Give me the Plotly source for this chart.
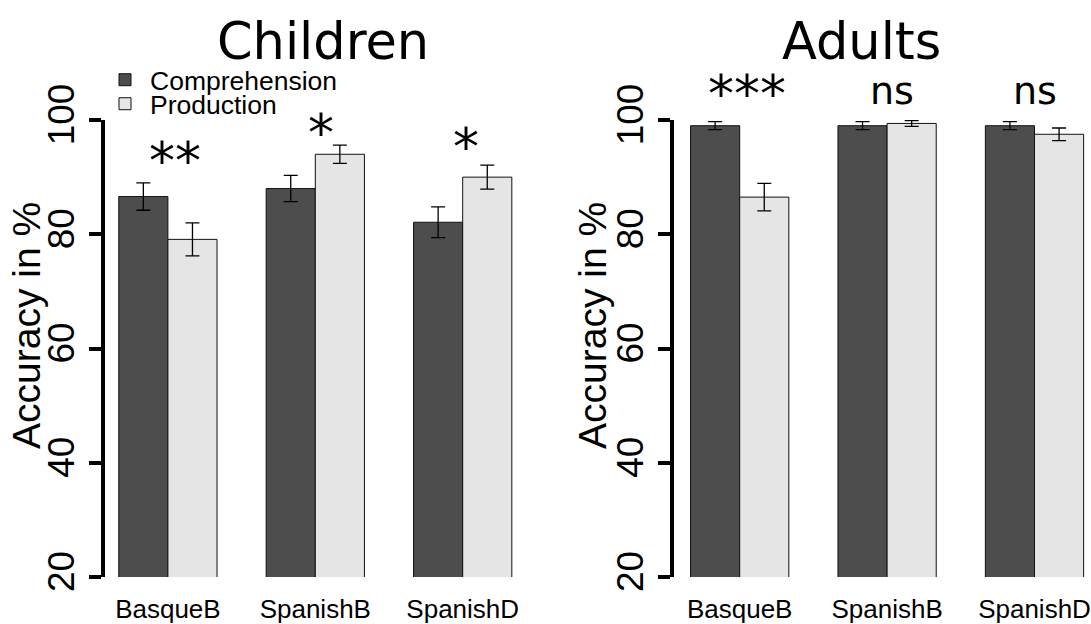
import plotly.graph_objects as go

# ---- data -------------------------------------------------------------
groups = ["BasqueB", "SpanishB", "SpanishD"]

children_comp = [86.6, 88.0, 82.1]
children_comp_se = [2.4, 2.3, 2.7]
children_prod = [79.1, 94.0, 90.0]
children_prod_se = [2.9, 1.6, 2.1]

adults_comp = [99.0, 99.0, 99.0]
adults_comp_se = [0.7, 0.7, 0.7]
adults_prod = [86.5, 99.4, 97.5]
adults_prod_se = [2.4, 0.5, 1.1]

y_ticks = [20, 40, 60, 80, 100]
y_range = [20, 100]

children_sig = ["**", "*", "*"]
children_sig_x = [0.05, 1.036, 2.02]
children_sig_y = [92.8, 97.8, 95.3]

adults_sig = ["***", "ns", "ns"]
adults_sig_x = [0.05, 1.03, 2.0]
adults_sig_y = [104.5, 105.0, 105.0]

# ---- styling ----------------------------------------------------------
W, H = 1091, 624
DARK = "#4d4d4d"
LIGHT = "#e5e5e5"
SANS = "Liberation Sans, Arial, sans-serif"
DEJAVU = "DejaVu Sans, sans-serif"


def px_x(p):
    return p / W


def px_y(p):
    return 1 - p / H


def dom_y(v):
    # position in the y-axis domain (0 = bottom of range, 1 = top)
    return (v - y_range[0]) / (y_range[1] - y_range[0])


xpos = list(range(len(groups)))

fig = go.Figure()


def add_pair(comp, comp_se, prod, prod_se, xa, ya, show):
    err = dict(type="data", visible=True, color="black", thickness=1.3, width=7)
    fig.add_trace(go.Bar(
        x=xpos, y=comp, name="Comprehension", xaxis=xa, yaxis=ya,
        marker=dict(color=DARK, line=dict(color="#111111", width=1)),
        error_y=dict(array=comp_se, **err),
        showlegend=show, legend="legend",
    ))
    fig.add_trace(go.Bar(
        x=xpos, y=prod, name="Production", xaxis=xa, yaxis=ya,
        marker=dict(color=LIGHT, line=dict(color="#111111", width=1)),
        error_y=dict(array=prod_se, **err),
        showlegend=show, legend="legend2",
    ))


add_pair(children_comp, children_comp_se, children_prod, children_prod_se, "x", "y", True)
add_pair(adults_comp, adults_comp_se, adults_prod, adults_prod_se, "x2", "y2", False)

ybottom, ytop = px_y(577), px_y(120)

yaxis_common = dict(
    range=y_range, tickvals=y_ticks, ticktext=[str(v) for v in y_ticks],
    showgrid=False, zeroline=False, showline=True, linecolor="black", linewidth=4,
    ticks="outside", ticklen=12, tickwidth=4, tickcolor="black",
    tickangle=-90, tickfont=dict(family=SANS, size=37, color="black"),
    ticklabelstandoff=0, domain=[ybottom, ytop], fixedrange=True, automargin=False,
)
xaxis_common = dict(
    tickvals=xpos, ticktext=groups, showgrid=False, zeroline=False,
    showline=False, ticks="", tickfont=dict(family=SANS, size=26, color="black"),
    ticklabelstandoff=14, fixedrange=True, automargin=False,
)

legend_common = dict(
    xanchor="left", yanchor="middle",
    font=dict(family=SANS, size=26.5, color="black"), itemwidth=40,
    bgcolor="rgba(0,0,0,0)", borderwidth=0,
)

fig.update_layout(
    width=W, height=H, autosize=False,
    margin=dict(l=0, r=0, t=0, b=0, autoexpand=False),
    paper_bgcolor="white", plot_bgcolor="white",
    barmode="group", bargap=1 / 3, bargroupgap=0,
    xaxis=dict(domain=[px_x(105), px_x(530)], range=[-0.4267, 2.4566], anchor="y", **xaxis_common),
    yaxis=dict(anchor="x", **yaxis_common),
    xaxis2=dict(domain=[px_x(674), px_x(1091)], range=[-0.4457, 2.3833], anchor="y2", **xaxis_common),
    yaxis2=dict(anchor="x2", **yaxis_common),
    legend=dict(x=px_x(100), y=px_y(80), **legend_common),
    legend2=dict(x=px_x(100), y=px_y(104), **legend_common),
)

annotations = []
# panel titles
annotations.append(dict(text="Children", x=px_x(323), y=px_y(42), xref="paper", yref="paper",
                        showarrow=False, xanchor="center", yanchor="middle",
                        font=dict(family=DEJAVU, size=51, color="black")))
annotations.append(dict(text="Adults", x=px_x(861), y=px_y(42), xref="paper", yref="paper",
                        showarrow=False, xanchor="center", yanchor="middle",
                        font=dict(family=DEJAVU, size=51, color="black")))
# y-axis titles
for xc in (26, 592):
    annotations.append(dict(text="Accuracy in %", x=px_x(xc), y=px_y(326), xref="paper", yref="paper",
                            showarrow=False, xanchor="center", yanchor="middle", textangle=-90,
                            font=dict(family=SANS, size=39, color="black")))
# significance markers
for labels, xs, ys, xr, yr in ((children_sig, children_sig_x, children_sig_y, "x", "y domain"),
                               (adults_sig, adults_sig_x, adults_sig_y, "x2", "y2 domain")):
    for lab, sx, sy in zip(labels, xs, ys):
        annotations.append(dict(text=lab, x=sx, y=dom_y(sy), xref=xr, yref=yr, showarrow=False,
                                xanchor="center", yanchor="middle",
                                font=dict(family=DEJAVU, size=52 if "*" in lab else 38,
                                          color="black")))
fig.update_layout(annotations=annotations)

fig.write_html("out.html")
